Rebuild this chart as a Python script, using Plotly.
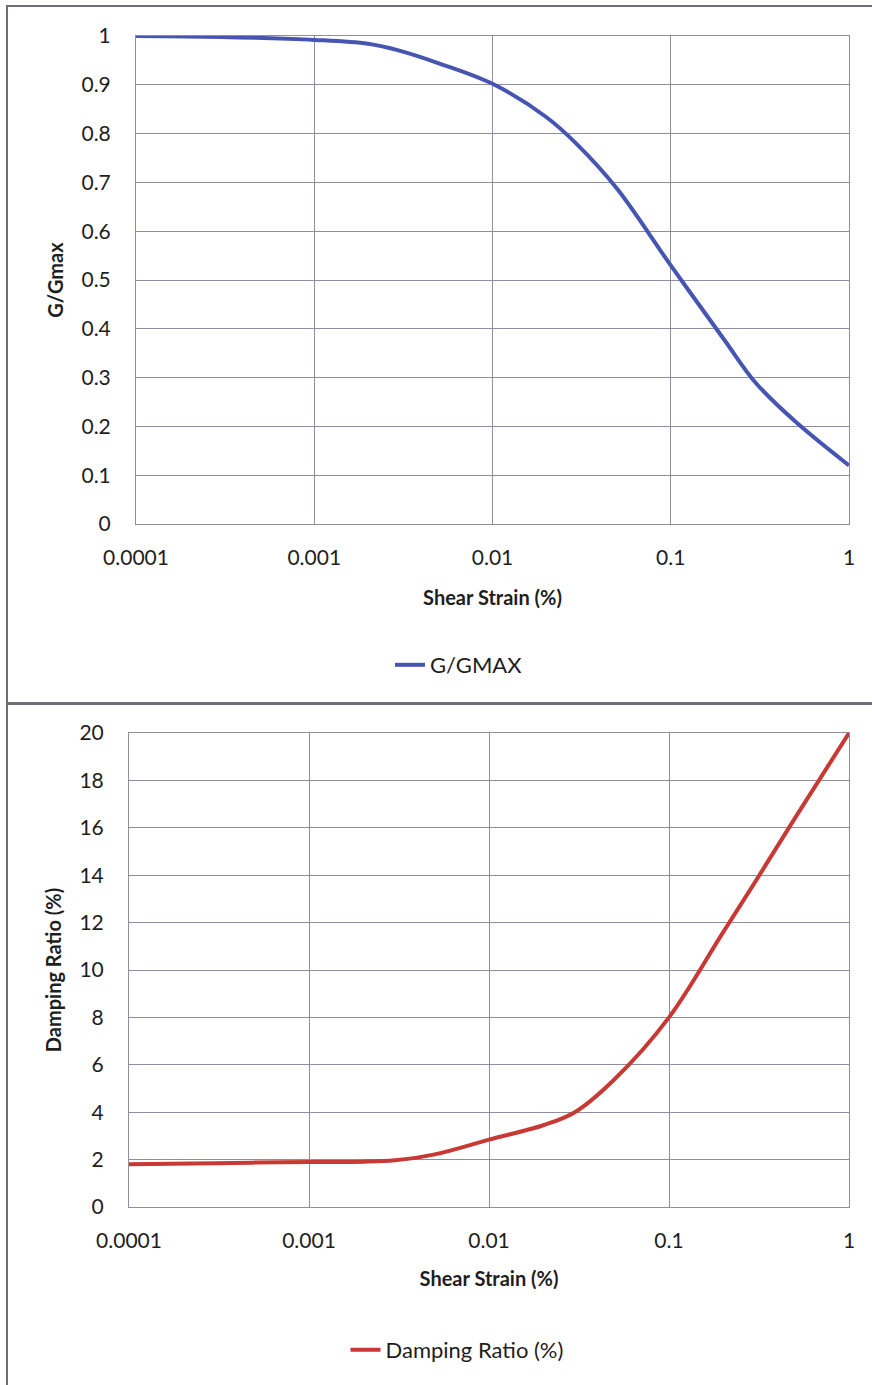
import plotly.graph_objects as go

# ---- data ----
strain = [0.0001, 0.0003, 0.001, 0.002, 0.003, 0.005, 0.01, 0.02, 0.03, 0.05,
          0.1, 0.2, 0.3, 0.5, 1.0]
g_gmax = [1.0, 0.998, 0.992, 0.984, 0.970, 0.944, 0.902, 0.834, 0.777, 0.687,
          0.53, 0.377, 0.289, 0.21, 0.12]
damping = [1.8, 1.85, 1.9, 1.91, 1.97, 2.22, 2.84, 3.45, 4.0, 5.4,
           8.0, 11.6, 13.7, 16.4, 20.0]

x_tickvals = [0.0001, 0.001, 0.01, 0.1, 1]
x_ticktext = ["0.0001", "0.001", "0.01", "0.1", "1"]
g_ticks = [0, 0.1, 0.2, 0.3, 0.4, 0.5, 0.6, 0.7, 0.8, 0.9, 1]
g_ticktext = ["0", "0.1", "0.2", "0.3", "0.4", "0.5", "0.6", "0.7", "0.8", "0.9", "1"]
d_ticks = [0, 2, 4, 6, 8, 10, 12, 14, 16, 18, 20]

W, H = 872, 1385
FONT = "Lato"
TXT = "#1e1e1e"
GRID = "#8e8e9e"

def px(x):
    return x / W

def py(y):
    return 1 - y / H

fig = go.Figure()
fig.add_trace(go.Scatter(
    x=strain, y=g_gmax, mode="lines", name="G/GMAX", showlegend=True,
    line=dict(color="#4755b2", width=4, shape="spline", smoothing=1.0),
    xaxis="x", yaxis="y", legend="legend"))
fig.add_trace(go.Scatter(
    x=strain, y=damping, mode="lines", name="Damping Ratio (%)", showlegend=True,
    line=dict(color="#c93934", width=4, shape="spline", smoothing=1.0),
    xaxis="x2", yaxis="y2", legend="legend2"))

xcommon = dict(type="log", range=[-4, 0], tickvals=x_tickvals, ticktext=x_ticktext,
               showgrid=True, gridcolor=GRID, gridwidth=1,
               showline=True, linecolor=GRID, linewidth=1, mirror=True,
               ticks="outside", ticklen=15, tickcolor="rgba(0,0,0,0)",
               tickfont=dict(family=FONT, size=21, color=TXT),
               zeroline=False, automargin=False)
ycommon = dict(showgrid=True, gridcolor=GRID, gridwidth=1,
               showline=True, linecolor=GRID, linewidth=1, mirror=True,
               ticks="outside", ticklen=20, tickcolor="rgba(0,0,0,0)",
               tickfont=dict(family=FONT, size=21, color=TXT),
               zeroline=False, automargin=False)

fig.update_layout(
    width=W, height=H,
    margin=dict(l=0, r=0, t=0, b=0),
    paper_bgcolor="white", plot_bgcolor="white",
    font=dict(family=FONT, color=TXT),
    showlegend=True,
    xaxis=dict(**xcommon, domain=[px(136), px(849)], anchor="y",
               title=dict(text="<b>Shear Strain (%)</b>", standoff=22,
                          font=dict(family=FONT, size=20, color=TXT))),
    yaxis=dict(**ycommon, domain=[py(524), py(36)], anchor="x",
               range=[0, 1], tickvals=g_ticks, ticktext=g_ticktext,
               title=dict(text="<b>G/Gmax</b>", standoff=12,
                          font=dict(family=FONT, size=20, color=TXT))),
    xaxis2=dict(**xcommon, domain=[px(129), px(849)], anchor="y2",
                title=dict(text="<b>Shear Strain (%)</b>", standoff=20,
                           font=dict(family=FONT, size=20, color=TXT))),
    yaxis2=dict(**ycommon, domain=[py(1207), py(733)], anchor="x2",
                range=[0, 20], tickvals=d_ticks,
                title=dict(text="<b>Damping Ratio (%)</b>", standoff=12,
                           font=dict(family=FONT, size=20, color=TXT))),
    legend=dict(orientation="h", x=px(459), xanchor="center", y=py(665), yanchor="middle",
                font=dict(family=FONT, size=22, color=TXT), bgcolor="rgba(0,0,0,0)"),
    legend2=dict(orientation="h", x=px(457), xanchor="center", y=py(1350), yanchor="middle",
                 font=dict(family=FONT, size=22, color=TXT), bgcolor="rgba(0,0,0,0)"),
    shapes=[
        dict(type="rect", xref="paper", yref="paper",
             x0=px(7), x1=1.02, y0=py(703), y1=py(6),
             line=dict(color="#6e6e78", width=2), fillcolor="rgba(0,0,0,0)"),
        dict(type="rect", xref="paper", yref="paper",
             x0=px(7), x1=1.02, y0=-0.02, y1=py(704),
             line=dict(color="#6e6e78", width=2), fillcolor="rgba(0,0,0,0)"),
    ],
)

fig.write_html("out.html")
